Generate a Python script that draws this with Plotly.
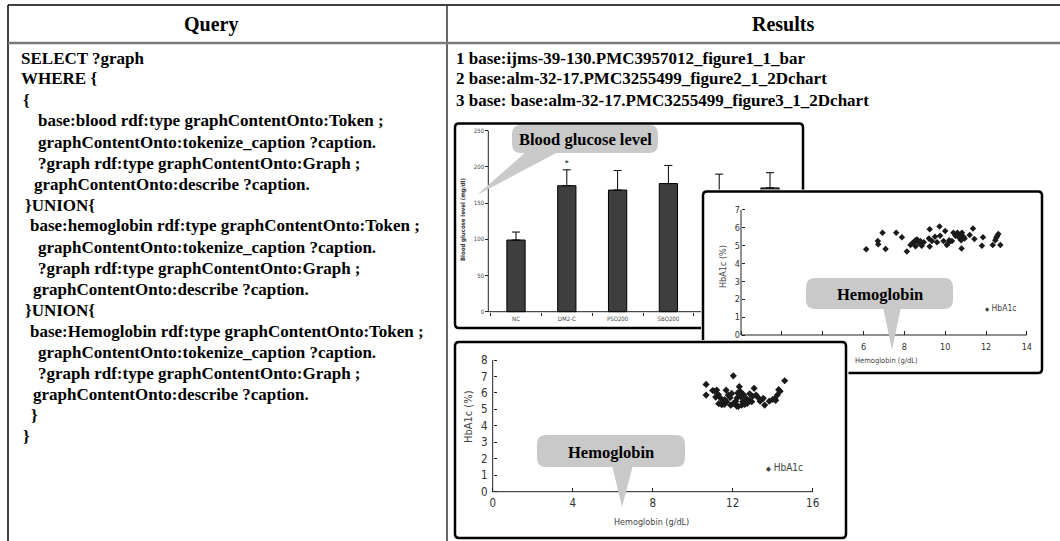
import plotly.graph_objects as go

W, H = 1060, 541

# ---------------- data ----------------
header_labels = ["Query", "Results"]
query_lines = [
    "SELECT ?graph",
    "WHERE {",
    "{",
    "base:blood rdf:type graphContentOnto:Token ;",
    "graphContentOnto:tokenize_caption ?caption.",
    "?graph rdf:type graphContentOnto:Graph ;",
    "graphContentOnto:describe ?caption.",
    "}UNION{",
    "base:hemoglobin rdf:type graphContentOnto:Token ;",
    "graphContentOnto:tokenize_caption ?caption.",
    "?graph rdf:type graphContentOnto:Graph ;",
    "graphContentOnto:describe ?caption.",
    "}UNION{",
    "base:Hemoglobin rdf:type graphContentOnto:Token ;",
    "graphContentOnto:tokenize_caption ?caption.",
    "?graph rdf:type graphContentOnto:Graph ;",
    "graphContentOnto:describe ?caption.",
    "}",
    "}",
]
result_lines = [
    "1 base:ijms-39-130.PMC3957012_figure1_1_bar",
    "2 base:alm-32-17.PMC3255499_figure2_1_2Dchart",
    "3 base: base:alm-32-17.PMC3255499_figure3_1_2Dchart",
]

bar_categories = ["NC", "DM2-C", "PSO200", "SBO200", "PSO400", "SBO400"]
bar_values = [99, 174, 168, 177, 166, 171]
bar_errors = [11, 22, 27, 25, 24, 21]
bar_marks = ["", "*", "", "", "", ""]
bar_yticks = [0, 50, 100, 150, 200, 250]
bar_ytitle = "Blood glucose level (mg/dl)"

hb2_x = [6.13, 6.70, 6.72, 6.93, 7.08, 7.60, 7.88, 8.12, 8.30, 8.40, 8.48, 8.55,
         8.62, 8.70, 8.78, 8.85, 8.55, 8.95, 9.20, 9.24, 9.35, 9.24, 9.50, 9.72,
         9.75, 9.92, 10.00, 10.08, 10.20, 10.33, 10.40, 10.50, 10.60, 10.68, 10.72,
         10.78, 10.82, 10.90, 10.95, 10.80, 11.20, 11.36, 11.43, 11.85, 11.80, 12.33,
         12.45, 12.50, 12.55, 12.60, 12.70, 9.60, 10.15]
hb2_y = [4.80, 5.26, 5.08, 5.73, 4.81, 5.73, 5.47, 4.67, 5.04, 5.15, 5.22, 5.30,
         5.35, 5.17, 5.26, 5.00, 4.97, 5.20, 5.40, 4.95, 5.26, 5.92, 5.50, 6.07,
         5.56, 5.26, 5.82, 5.04, 5.30, 5.26, 5.73, 5.56, 5.73, 5.45, 5.60,
         5.30, 5.73, 5.50, 5.40, 4.85, 5.60, 5.97, 5.37, 5.47, 5.00, 5.04,
         5.30, 5.45, 5.55, 5.65, 5.04, 5.20, 5.15]
hb2_xticks = [0, 2, 4, 6, 8, 10, 12, 14]
hb2_yticks = [0, 1, 2, 3, 4, 5, 6, 7]

hb3_x = [10.67, 10.67, 11.00, 11.10, 11.20, 11.28, 11.40, 11.50, 11.58, 11.67, 11.78,
         11.87, 11.95, 12.03, 12.10, 12.15, 12.20, 12.22, 12.28, 12.33, 12.37, 12.40,
         12.50, 12.53, 12.67, 12.73, 12.83, 12.95, 13.07, 13.17, 13.28, 13.37, 13.53,
         13.60, 13.83, 14.00, 14.10, 14.23, 14.30, 14.37, 14.60, 11.30, 11.45, 11.70,
         11.90, 12.00, 12.45, 12.60, 12.85, 11.15, 11.60, 13.00, 14.15, 12.25]
hb3_y = [6.52, 5.87, 6.15, 6.10, 6.18, 5.90, 5.67, 5.40, 5.30, 6.17, 5.87,
         5.71, 5.97, 7.04, 5.40, 5.50, 5.20, 5.70, 5.18, 6.38, 6.10, 5.77,
         5.47, 5.91, 5.67, 5.36, 5.57, 5.47, 6.28, 5.87, 5.71, 5.50, 5.67,
         5.26, 5.50, 5.60, 5.65, 5.87, 6.20, 6.10, 6.74, 5.35, 5.28, 5.45,
         5.25, 5.33, 5.25, 5.30, 5.95, 5.75, 5.60, 5.80, 5.55, 6.00]
hb3_xticks = [0, 4, 8, 12, 16]
hb3_yticks = [0, 1, 2, 3, 4, 5, 6, 7, 8]

hb_xtitle = ["Hemoglobin (g/dL)", "Hemoglobin (g/dL)"]
hb_ytitle = "HbA1c (%)"
hb_series = "HbA1c"
callout_labels = ["Blood glucose level", "Hemoglobin", "Hemoglobin"]

# ---------------- layout helpers (pixel -> paper) ----------------
def X(px):
    return px / W

def Y(py):
    return 1 - py / H

SERIF = "Liberation Serif"
NARROW = "Liberation Sans Narrow, DejaVu Sans Condensed, sans-serif"

# panel geometry: plot domain (px), data origin px and px per unit, border box
panels = [
    dict(dom=(453, 805, 121.5, 345), x0=516, xs=50.8, y0=311.7, ys=0.724,
         border=(455, 123.5, 803, 328), xr="x", yr="y"),
    dict(dom=(701, 1044, 189.5, 375), x0=741, xs=20.42, y0=335, ys=17.86,
         border=(703, 191.5, 1042, 373), xr="x2", yr="y2"),
    dict(dom=(452.5, 848.5, 340, 540.5), x0=492.7, xs=20.0, y0=491.7, ys=16.46,
         border=(455, 342, 846, 538), xr="x3", yr="y3"),
]

def dx(p, px):
    return (px - p["x0"]) / p["xs"]

def dy(p, py):
    return (p["y0"] - py) / p["ys"]

def rr_path_data(p, box, r):
    x0, y0, x1, y1 = box
    pts = [
        ("M", [(x0 + r, y0)]), ("L", [(x1 - r, y0)]), ("Q", [(x1, y0), (x1, y0 + r)]),
        ("L", [(x1, y1 - r)]), ("Q", [(x1, y1), (x1 - r, y1)]), ("L", [(x0 + r, y1)]),
        ("Q", [(x0, y1), (x0, y1 - r)]), ("L", [(x0, y0 + r)]), ("Q", [(x0, y0), (x0 + r, y0)]),
    ]
    s = ""
    for cmd, ps in pts:
        s += cmd + " " + " ".join(f"{dx(p, a):.5f},{dy(p, b):.5f}" for a, b in ps) + " "
    return s + "Z"

def rr_path_paper(box, r):
    x0, y0, x1, y1 = box
    f = lambda a, b: f"{X(a):.5f},{Y(b):.5f}"
    return (f"M {f(x0 + r, y0)} L {f(x1 - r, y0)} Q {f(x1, y0)} {f(x1, y0 + r)} "
            f"L {f(x1, y1 - r)} Q {f(x1, y1)} {f(x1 - r, y1)} L {f(x0 + r, y1)} "
            f"Q {f(x0, y1)} {f(x0, y1 - r)} L {f(x0, y0 + r)} Q {f(x0, y0)} {f(x0 + r, y0)} Z")

def tri_paper(a, b, c):
    f = lambda q: f"{X(q[0]):.5f},{Y(q[1]):.5f}"
    return f"M {f(a)} L {f(b)} L {f(c)} Z"

fig = go.Figure()

# ---------------- traces ----------------
fig.add_trace(go.Bar(
    x=bar_categories, y=bar_values, width=0.36,
    marker=dict(color="#3e3e3e", line=dict(color="black", width=1)),
    error_y=dict(type="data", array=bar_errors, arrayminus=[0] * len(bar_errors),
                 symmetric=False, color="black", thickness=1, width=4),
    xaxis="x", yaxis="y", showlegend=False, hoverinfo="skip",
))
mk = [i for i, m in enumerate(bar_marks) if m]
fig.add_trace(go.Scatter(
    x=[bar_categories[i] for i in mk],
    y=[bar_values[i] + bar_errors[i] + 9 for i in mk],
    text=[bar_marks[i] for i in mk], mode="text",
    textfont=dict(size=8, color="black"), xaxis="x", yaxis="y",
    showlegend=False, hoverinfo="skip",
))
fig.add_trace(go.Scatter(
    x=hb2_x, y=hb2_y, mode="markers", name=hb_series,
    marker=dict(symbol="diamond", size=5, color="#1a1a1a"),
    xaxis="x2", yaxis="y2", showlegend=False, hoverinfo="skip",
))
fig.add_trace(go.Scatter(
    x=hb3_x, y=hb3_y, mode="markers", name=hb_series,
    marker=dict(symbol="diamond", size=5.5, color="#1a1a1a"),
    xaxis="x3", yaxis="y3", showlegend=False, hoverinfo="skip",
))

# ---------------- axes ----------------
def axes_for(p):
    L, R, T, B = p["dom"]
    return (dict(domain=[X(L), X(R)], range=[dx(p, L), dx(p, R)]),
            dict(domain=[Y(B), Y(T)], range=[dy(p, B), dy(p, T)]))

common = dict(showgrid=False, zeroline=False, showline=False, fixedrange=True,
              anchor="free", tickcolor="#222", tickwidth=1)

p1, p2, p3 = panels
ax1x, ax1y = axes_for(p1)
ax2x, ax2y = axes_for(p2)
ax3x, ax3y = axes_for(p3)

layout_axes = dict(
    xaxis=dict(**ax1x, **common, type="category", categoryorder="array",
               categoryarray=bar_categories, position=Y(p1["y0"]),
               ticks="outside", ticklen=3, tickson="boundaries", ticklabelstandoff=2,
               tickfont=dict(family=NARROW, size=6, color="#444")),
    yaxis=dict(**ax1y, **common, position=X(488.3), tickmode="array",
               tickvals=bar_yticks, ticks="outside", ticklen=3,
               tickfont=dict(family=NARROW, size=6, color="#444")),
    xaxis2=dict(**ax2x, **common, position=Y(p2["y0"]), tickmode="array",
                tickvals=hb2_xticks, ticks="inside", ticklen=4, ticklabelstandoff=5,
                tickfont=dict(family=NARROW, size=9, color="#333")),
    yaxis2=dict(**ax2y, **common, position=X(p2["x0"]), tickmode="array",
                tickvals=hb2_yticks, ticks="inside", ticklen=3, ticklabelstandoff=1,
                tickfont=dict(family=NARROW, size=9, color="#333")),
    xaxis3=dict(**ax3x, **common, position=Y(p3["y0"]), tickmode="array",
                tickvals=hb3_xticks, ticks="inside", ticklen=4, ticklabelstandoff=3,
                tickfont=dict(family=NARROW, size=11.5, color="#333")),
    yaxis3=dict(**ax3y, **common, position=X(p3["x0"]), tickmode="array",
                tickvals=hb3_yticks, ticks="inside", ticklen=3, ticklabelstandoff=5,
                tickfont=dict(family=NARROW, size=11.5, color="#333")),
)

# ---------------- shapes ----------------
shapes = []
# table rules
shapes += [
    dict(type="line", xref="paper", yref="paper", x0=X(8), x1=X(1060), y0=Y(5), y1=Y(5),
         line=dict(color="black", width=1.5), layer="below"),
    dict(type="line", xref="paper", yref="paper", x0=X(8), x1=X(8), y0=Y(5), y1=Y(541),
         line=dict(color="black", width=1.5), layer="below"),
    dict(type="line", xref="paper", yref="paper", x0=X(447), x1=X(447), y0=Y(5), y1=Y(541),
         line=dict(color="#333", width=1.5), layer="below"),
    dict(type="line", xref="paper", yref="paper", x0=X(8), x1=X(1060), y0=Y(43), y1=Y(43),
         line=dict(color="#7a7a7a", width=2.5), layer="below"),
]
# panel borders + axis lines, drawn inside each panel's own subplot layer
axis_line_style = dict(color="#222", width=1)
x_start_1 = dx(p1, 488.3)
panel_axis_lines = [
    (p1, (x_start_1, 0, len(bar_categories) - 0.4, 0), (x_start_1, 0, x_start_1, max(bar_yticks))),
    (p2, (0, 0, max(hb2_xticks), 0), (0, 0, 0, max(hb2_yticks))),
    (p3, (0, 0, max(hb3_xticks), 0), (0, 0, 0, max(hb3_yticks))),
]
for p, hl, vl in panel_axis_lines:
    shapes.append(dict(type="path", xref=p["xr"], yref=p["yr"], layer="below",
                       path=rr_path_data(p, p["border"], 4),
                       line=dict(color="black", width=2.5), fillcolor="rgba(0,0,0,0)"))
    for seg in (hl, vl):
        shapes.append(dict(type="line", xref=p["xr"], yref=p["yr"], layer="below",
                           x0=seg[0], y0=seg[1], x1=seg[2], y1=seg[3], line=axis_line_style))

# callouts
CALL = "#c9c9c9"
callouts = [
    dict(box=(512, 125, 658, 153), tail=((527, 151), (560, 151), (477, 195)), size=16.5),
    dict(box=(806, 278, 953, 309), tail=((883, 307), (901, 307), (892, 350)), size=16.5),
    dict(box=(537, 435, 685, 467), tail=((612, 465), (633, 465), (622, 507)), size=16.5),
]
for c in callouts:
    shapes.append(dict(type="path", xref="paper", yref="paper", layer="above",
                       path=rr_path_paper(c["box"], 9), fillcolor=CALL, line=dict(width=0)))
    shapes.append(dict(type="path", xref="paper", yref="paper", layer="above",
                       path=tri_paper(*c["tail"]), fillcolor=CALL, line=dict(width=0)))

# ---------------- annotations ----------------
ann = []
def text(px, py, s, size, family=SERIF, color="black", xanchor="left", angle=0, bold=True):
    ann.append(dict(xref="paper", yref="paper", x=X(px), y=Y(py), text=(f"<b>{s}</b>" if bold else s),
                    showarrow=False, xanchor=xanchor, yanchor="middle", textangle=angle,
                    font=dict(family=family, size=size, color=color)))

text(211, 24, header_labels[0], 20, xanchor="center")
text(783, 24, header_labels[1], 20, xanchor="center")

query_indent = [19, 19, 21, 36, 36, 36, 32, 23, 28, 36, 36, 31, 23, 28, 36, 36, 31, 29, 21]
for i, line in enumerate(query_lines):
    text(query_indent[i], 58 + 21 * i, line, 17)
for i, line in enumerate(result_lines):
    text(454, 58 + 21 * i, line, 17)

for c, lab in zip(callouts, callout_labels):
    bx = c["box"]
    text((bx[0] + bx[2]) / 2, (bx[1] + bx[3]) / 2 + 1, lab, c["size"], xanchor="center")

# axis titles
text(463, 220, bar_ytitle, 6, family=NARROW, color="#333", xanchor="center", angle=-90)
text(886, 360, hb_xtitle[0], 7.5, family=NARROW, color="#444", xanchor="center", bold=False)
text(723, 267, hb_ytitle, 9, family=NARROW, color="#444", xanchor="center", angle=-90, bold=False)
text(651, 522, hb_xtitle[1], 9, family=NARROW, color="#444", xanchor="center", bold=False)
text(468, 417, hb_ytitle, 11, family=NARROW, color="#444", xanchor="center", angle=-90, bold=False)

# legends
text(983, 308, f"<span style='font-size:6px'>◆</span> {hb_series}", 8.5, family=NARROW,
     color="#444", bold=False)
text(764, 467, f"<span style='font-size:7px'>◆</span> {hb_series}", 10, family=NARROW,
     color="#444", bold=False)

fig.update_layout(
    width=W, height=H, autosize=False,
    margin=dict(l=0, r=0, t=0, b=0, pad=0),
    paper_bgcolor="#ffffff", plot_bgcolor="white",
    showlegend=False, shapes=shapes, annotations=ann,
    **layout_axes,
)

fig.write_html("out.html")
